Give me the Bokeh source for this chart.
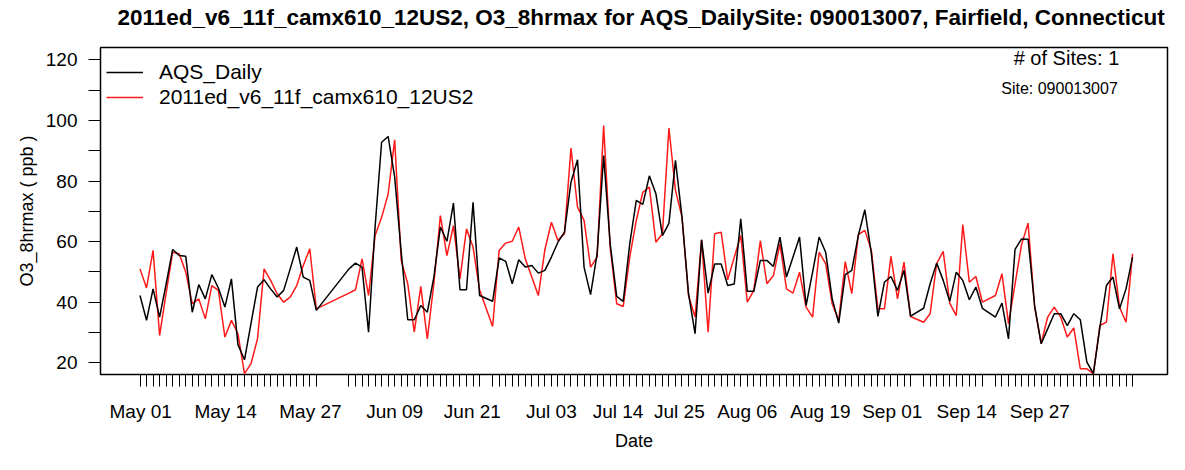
import pandas as pd
from bokeh.plotting import figure
from bokeh.models import (Range1d, FixedTicker, Label, Legend, LegendItem,
                          ColumnDataSource, Title)
from bokeh.embed import file_html
from bokeh.resources import INLINE

# ---------------- data ----------------
season_start = "2011-05-01"
season_end = "2011-09-30"
missing_dates = ["2011-05-29", "2011-05-30", "2011-05-31", "2011-06-01",
                 "2011-06-23", "2011-08-28", "2011-09-08"]

aqs_daily = [
    42.2, 34.0, 44.4, 35.1, 46.0, 57.4, 55.4, 55.2, 36.7, 45.8, 41.1, 49.1, 44.7, 38.4,
    47.7, 26.0, 21.0, 33.0, 45.0, 47.4, 44.4, 41.7, 43.9, 51.0, 58.2, 48.3, 47.2, 37.3,
    51.0, 52.9, 51.6, 30.1, 64.8, 92.8, 94.7, 81.3, 56.5, 34.2, 34.2, 38.9, 36.7, 48.3,
    64.8, 60.1, 72.7, 44.1, 44.1, 73.0, 42.2,
    40.3, 54.6, 53.5, 46.1, 54.0, 51.6, 52.1, 49.6, 50.5, 54.9, 59.8, 63.1, 79.6, 87.0,
    51.6, 42.5, 56.0, 88.4, 59.3, 41.9, 40.3, 59.3, 73.6, 72.3, 81.7, 75.8, 62.0, 66.0,
    86.8, 68.1, 42.8, 29.6, 60.6, 43.0, 52.6, 52.6, 45.5, 46.0, 67.5, 43.6, 43.6, 53.8,
    53.8, 51.8, 61.5, 48.3, 54.9, 61.5, 38.9, 49.9, 61.5, 56.5, 41.1, 33.1, 49.1, 50.5,
    62.0, 70.5, 56.0, 35.3, 46.6, 48.5, 43.9, 50.5, 35.4,
    38.0, 46.1, 52.9, 47.2, 40.3, 49.9, 47.2, 40.8, 45.0, 38.0,
    35.1, 39.7, 27.9, 57.4, 60.9, 60.8, 38.9, 26.3, 31.2, 36.2, 36.2, 32.3, 36.2, 34.2,
    20.2, 16.4, 31.8, 45.5, 48.3, 37.8, 44.4, 54.9,
]

camx_model = [
    51.0, 44.7, 57.1, 29.0, 43.0, 56.5, 56.0, 50.0, 39.5, 41.1, 34.5, 45.5, 43.9, 28.5,
    34.0, 29.6, 16.4, 19.7, 28.0, 51.0, 47.2, 42.8, 40.0, 41.7, 45.5, 52.1, 57.6, 37.8,
    43.0, 44.1, 54.3, 42.2, 62.0, 68.0, 75.7, 93.6, 53.8, 46.1, 30.1, 45.2, 27.9, 46.1,
    68.6, 55.4, 65.3, 47.7, 64.2, 58.2, 44.1,
    32.0, 57.1, 59.5, 60.1, 64.8, 54.3, 48.3, 42.2, 57.3, 66.4, 60.4, 62.6, 90.9, 71.4,
    67.0, 51.6, 54.9, 98.3, 58.2, 39.5, 38.6, 54.9, 67.0, 76.3, 78.0, 59.8, 62.6, 97.5,
    76.9, 68.1, 42.2, 35.1, 60.6, 30.1, 62.6, 63.1, 47.4, 54.8, 62.0, 40.0, 43.9, 60.3,
    46.1, 48.8, 59.3, 44.4, 43.0, 49.9, 38.4, 35.1, 56.5, 52.7, 39.5, 34.0, 53.4, 42.8,
    62.3, 63.7, 57.1, 37.8, 37.8, 55.1, 41.1, 53.2, 35.3,
    33.4, 36.2, 52.7, 56.8, 39.7, 35.6, 65.6, 46.6, 48.5, 40.0,
    42.2, 49.4, 32.9, 46.0, 59.0, 66.1, 38.4, 26.3, 35.1, 38.4, 35.1, 28.5, 31.5, 18.0,
    18.0, 16.4, 32.3, 33.4, 56.0, 38.4, 33.4, 56.0,
]

# date tick labels as printed on the original axis (day offset from May 01)
tick_labels = ["May 01", "May 14", "May 27", "Jun 09", "Jun 21", "Jul 03", "Jul 14",
               "Jul 25", "Aug 06", "Aug 19", "Sep 01", "Sep 14", "Sep 27"]
tick_label_days = [0.1, 13.1, 26.1, 39.0, 50.9, 63.0, 73.2, 82.6, 93.0, 104.2, 115.2,
                   126.6, 137.8]

y_ticks = [20, 30, 40, 50, 60, 70, 80, 90, 100, 110, 120]
y_tick_labels = ["20", "", "40", "", "60", "", "80", "", "100", "", "120"]

title_text = ("2011ed_v6_11f_camx610_12US2, O3_8hrmax for AQS_DailySite: "
              "090013007, Fairfield, Connecticut")
series_names = ["AQS_Daily", "2011ed_v6_11f_camx610_12US2"]

# ---------------- derived ----------------
start = pd.Timestamp(season_start)
all_days = pd.date_range(season_start, season_end, freq="D")
miss = set(pd.to_datetime(missing_dates))
dates = [d for d in all_days if d not in miss]
x_days = [(d - start).days for d in dates]
assert len(x_days) == len(aqs_daily) == len(camx_model)

src = ColumnDataSource(dict(x=x_days, obs=aqs_daily, mod=camx_model))

FONT = "Liberation Sans"

p = figure(width=1169, height=454, output_backend="svg", toolbar_location=None,
           x_range=Range1d(-6.05, 157.35), y_range=Range1d(16.14, 124.06),
           min_border_left=100, min_border_right=2, min_border_top=47,
           min_border_bottom=80, background_fill_color="white",
           border_fill_color="white")

p.title.text = title_text
p.title.text_font = FONT
p.title.text_font_size = "22.5px"
p.title.text_font_style = "bold"
p.title.text_color = "black"
p.title.align = "left"
p.title.offset = 17
p.title.vertical_align = "bottom"
p.title.standoff = 0

# thin spacer between the title and the plot frame
p.add_layout(Title(text=" ", text_font_size="2px", standoff=14), "above")

p.xgrid.visible = False
p.ygrid.visible = False
p.outline_line_color = "black"
p.outline_line_width = 1.5
p.outline_line_alpha = 1.0

# x axis: daily tick marks as minor ticks, labels at their printed positions
xa = p.xaxis[0]
xa.ticker = FixedTicker(ticks=tick_label_days, minor_ticks=x_days)
xa.major_label_overrides = {d: t for d, t in zip(tick_label_days, tick_labels)}
xa.axis_line_color = None
xa.major_tick_line_color = None
xa.major_tick_out = 12
xa.major_tick_in = 0
xa.minor_tick_out = 12
xa.minor_tick_in = 0
xa.minor_tick_line_color = "black"
xa.minor_tick_line_width = 1
xa.major_label_standoff = 14
xa.major_label_text_font = FONT
xa.major_label_text_font_size = "19px"
xa.major_label_text_color = "black"
xa.axis_label = "Date"
xa.axis_label_text_font = FONT
xa.axis_label_text_font_size = "18px"
xa.axis_label_text_font_style = "normal"
xa.axis_label_text_color = "black"
xa.axis_label_standoff = 6

ya = p.yaxis[0]
ya.ticker = FixedTicker(ticks=y_ticks, minor_ticks=[])
ya.major_label_overrides = {v: t for v, t in zip(y_ticks, y_tick_labels)}
ya.axis_line_color = None
ya.major_tick_out = 12
ya.major_tick_in = 0
ya.major_tick_line_color = "black"
ya.major_tick_line_width = 1
ya.minor_tick_line_color = None
ya.major_label_standoff = 11
ya.major_label_text_font = FONT
ya.major_label_text_font_size = "19px"
ya.major_label_text_color = "black"
ya.axis_label = "O3_8hrmax ( ppb )"
ya.axis_label_text_font = FONT
ya.axis_label_text_font_size = "18px"
ya.axis_label_text_font_style = "normal"
ya.axis_label_text_color = "black"
ya.axis_label_standoff = 6

r_mod = p.line("x", "mod", source=src, line_color="#ff1a1a", line_width=1.5)
r_obs = p.line("x", "obs", source=src, line_color="black", line_width=1.5)

legend = Legend(items=[LegendItem(label=series_names[0], renderers=[r_obs]),
                       LegendItem(label=series_names[1], renderers=[r_mod])],
                location=(6, 265))
legend.border_line_color = None
legend.background_fill_alpha = 0
legend.label_text_font = FONT
legend.label_text_font_size = "21px"
legend.label_text_color = "black"
legend.glyph_width = 37
legend.glyph_height = 20
legend.label_height = 20
legend.spacing = 1
legend.padding = 5
legend.margin = 0
legend.label_standoff = 16
p.add_layout(legend)

p.add_layout(Label(x=966, y=317, x_units="screen", y_units="screen",
                   text="# of Sites: 1", text_font=FONT, text_font_size="20px",
                   text_align="center", text_baseline="alphabetic", text_color="black"))
p.add_layout(Label(x=959, y=286, x_units="screen", y_units="screen",
                   text="Site: 090013007", text_font=FONT, text_font_size="16px",
                   text_align="center", text_baseline="alphabetic", text_color="black"))

open("out.html", "w").write(file_html(p, INLINE))
